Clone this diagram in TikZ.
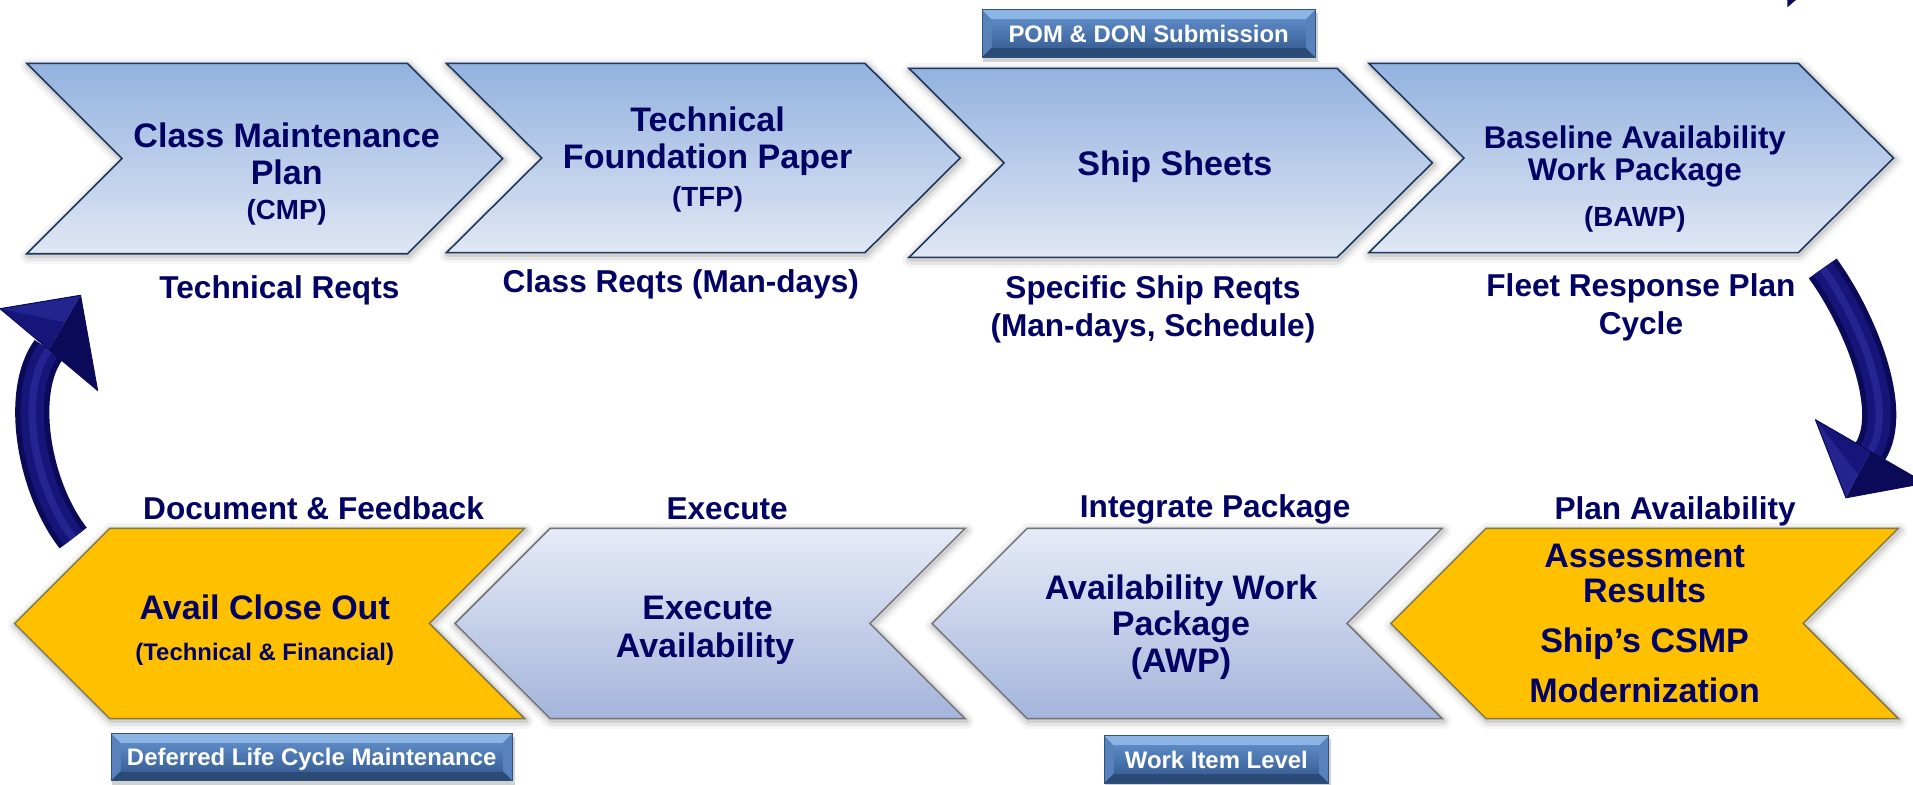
\documentclass[tikz,border=0pt]{standalone}
\usepackage{fontspec}
\setmainfont{Liberation Sans}
\usetikzlibrary{calc}
\definecolor{navy}{RGB}{2,2,100}
\definecolor{topA}{RGB}{147,178,223}
\definecolor{topB}{RGB}{224,231,244}
\definecolor{topline}{RGB}{30,55,95}
\definecolor{botA}{RGB}{230,235,247}
\definecolor{botB}{RGB}{164,181,219}
\definecolor{botline}{RGB}{115,115,120}
\definecolor{orangeF}{RGB}{255,192,0}
\definecolor{orline}{RGB}{135,120,70}
\definecolor{boxlight}{RGB}{140,180,228}
\definecolor{boxside}{RGB}{88,130,188}
\definecolor{boxdark}{RGB}{44,74,118}
\definecolor{boxinA}{RGB}{92,136,196}
\definecolor{boxinB}{RGB}{58,98,152}
\definecolor{boxline}{RGB}{50,80,125}
\definecolor{arrD}{RGB}{10,10,88}
\definecolor{arrM}{RGB}{22,22,122}
\definecolor{arrL}{RGB}{50,50,165}
\newcommand\myfs[1]{\fontsize{#1}{#1}\selectfont}
% right-pointing chevron: L T B R depth style
\newcommand\rchevp[6]{\path[#6] (#1,#2) -- (#4,#2) -- ({#4+#5},{(#2+#3)/2}) -- (#4,#3) -- (#1,#3) -- ({#1+#5},{(#2+#3)/2}) -- cycle;}
\newcommand\rchev[6]{\rchevp{#1}{#2}{#3}{#4}{#5}{halo1}\rchevp{#1}{#2}{#3}{#4}{#5}{halo2}\rchevp{#1}{#2}{#3}{#4}{#5}{halo3}\rchevp{#1}{#2}{#3}{#4}{#5}{#6}}
% left-pointing chevron: X T B Rt depth style
\newcommand\lchevp[6]{\path[#6] (#1,{(#2+#3)/2}) -- ({#1+#5},#2) -- (#4,#2) -- ({#4-#5},{(#2+#3)/2}) -- (#4,#3) -- ({#1+#5},#3) -- cycle;}
\newcommand\lchev[6]{\lchevp{#1}{#2}{#3}{#4}{#5}{halo1}\lchevp{#1}{#2}{#3}{#4}{#5}{halo2}\lchevp{#1}{#2}{#3}{#4}{#5}{halo3}\lchevp{#1}{#2}{#3}{#4}{#5}{#6}}
% bevelled box: x1 y1 x2 y2
\newcommand\bevbox[4]{%
  \fill[black,opacity=0.18] ({#1+1},{#2+3}) rectangle ({#3+2},{#4+4});
  \fill[boxside] (#1,#2) rectangle (#3,#4);
  \fill[boxlight] (#1,#2) -- (#3,#2) -- ({#3-8},{#2+8}) -- ({#1+8},{#2+8}) -- cycle;
  \fill[boxdark] (#1,#4) -- (#3,#4) -- ({#3-8},{#4-8}) -- ({#1+8},{#4-8}) -- cycle;
  \shade[top color=boxinA,bottom color=boxinB] ({#1+8},{#2+8}) rectangle ({#3-8},{#4-8});
  \draw[boxline,line width=0.8] (#1,#2) rectangle (#3,#4);}
\begin{document}
\begin{tikzpicture}[x=1pt,y=-1pt,
  halo1/.style={draw=black,opacity=0.04,line width=13,line join=round,shift={(1,2)}},
  halo2/.style={draw=black,opacity=0.06,line width=8,line join=round,shift={(1,2)}},
  halo3/.style={draw=black,opacity=0.09,line width=4,line join=round,shift={(1,1.5)}},
  topch/.style={top color=topA,bottom color=topB,draw=topline,line width=1.3},
  botch/.style={top color=botA,bottom color=botB,draw=botline,line width=1.2},
  orch/.style={fill=orangeF,draw=orline,line width=1.2},
  txt/.style={text=navy,inner sep=0pt,anchor=base},
  main/.style={txt,font=\bfseries\myfs{27.9}},
  bmain/.style={txt,font=\bfseries\myfs{25.7}},
  sub/.style={txt,font=\bfseries\myfs{22.7}},
  small/.style={txt,font=\bfseries\myfs{19.6}},
  lab/.style={txt,font=\bfseries\myfs{25.9}},
  boxt/.style={text=white,inner sep=0pt,anchor=base,font=\bfseries\myfs{19.6}},
  shaftD/.style={draw=arrD,line width=28},
  shaftM/.style={draw=arrM,line width=19},
  shaftL/.style={draw=arrL,line width=6,opacity=0.55}]
\useasboundingbox (0,0) rectangle (1568,643);
\fill[white] (0,0) rectangle (1568,643);

% ---------- top row ----------
\rchev{22}{52}{208}{334}{78}{topch}
\rchev{366}{52}{207}{709}{78}{topch}
\rchev{745}{56}{211}{1096}{78}{topch}
\rchev{1122}{52}{207}{1474}{78}{topch}

% ---------- bottom row ----------
\lchev{12}{433}{589}{430}{78}{orch}
\lchev{373}{433}{589}{791}{78}{botch}
\lchev{764}{433}{589}{1182}{78}{botch}
\lchev{1140}{433}{589}{1556}{78}{orch}

% ---------- bevelled boxes ----------
\bevbox{805}{8}{1078}{47}
\bevbox{91}{601}{420}{640}
\bevbox{905}{603}{1089}{642}
\node[boxt] (pom) at (941.5,34.5) {POM \& DON Submission};
\node[boxt] (dlc) at (255.5,627.5) {Deferred Life Cycle Maintenance};
\node[boxt] (wil) at (997,629.5) {Work Item Level};

% ---------- top texts ----------
\node[main] (cmp1) at (235,120.5) {Class Maintenance};
\node[main] (cmp2) at (235,151) {Plan};
\node[sub]  (cmp3) at (235,180) {(CMP)};
\node[lab]  (l1)   at (229,244.4) {Technical Reqts};

\node[main] (tfp1) at (580,107.4) {Technical};
\node[main] (tfp2) at (580,137.8) {Foundation Paper};
\node[sub]  (tfp3) at (580,169.5) {(TFP)};
\node[lab]  (l2)   at (558,239.5) {Class Reqts (Man-days)};

\node[main] (ss1)  at (963,144) {Ship Sheets};
\node[lab]  (l3a)  at (945,244.5) {Specific Ship Reqts};
\node[lab]  (l3b)  at (945,276) {(Man-days, Schedule)};

\node[bmain] (b1)  at (1340,122) {Baseline Availability};
\node[bmain] (b2)  at (1340,148) {Work Package};
\node[sub]   (b3)  at (1340,186) {(BAWP)};
\node[lab]   (l4a) at (1345,243) {Fleet Response Plan};
\node[lab]   (l4b) at (1345,274) {Cycle};

% ---------- bottom texts ----------
\node[lab] (l5) at (257,426) {Document \& Feedback};
\node[lab] (l6) at (596,426) {Execute};
\node[lab] (l7) at (996,424) {Integrate Package};
\node[lab] (l8) at (1373,426) {Plan Availability};

\node[main]  (a1) at (217,508) {Avail Close Out};
\node[small] (a2) at (217,541) {(Technical \& Financial)};
\node[main]  (e1) at (580,508) {Execute};
\node[main]  (e2) at (578,539) {Availability};
\node[main]  (w1) at (968,491) {Availability Work};
\node[main]  (w2) at (968,521) {Package};
\node[main]  (w3) at (968,551) {(AWP)};
\node[main]  (o1) at (1348,465) {Assessment};
\node[main]  (o2) at (1348,494) {Results};
\node[main]  (o3) at (1348,535) {Ship’s CSMP};
\node[main]  (o4) at (1348,576) {Modernization};

% ---------- left curved arrow ----------
\coordinate (la0) at (60,441);
\coordinate (la1) at (40,286.5);
\foreach \s in {shaftD,shaftM,shaftL}
  \path[\s] (la0) .. controls (28,400) and (14,322) .. (la1);
\coordinate (law1) at (80,320);
\coordinate (law2) at (0,253);
\coordinate (lat) at (66,242);
\fill[arrM] (law2) -- (lat) -- (la1) -- cycle;
\fill[arrD] (law1) -- (lat) -- (la1) -- cycle;
\fill[arrL,opacity=0.5] (law2) -- (lat) -- ($(la1)!0.5!(lat)$) -- cycle;
\draw[arrD,line width=0.8,line join=round] (law1) -- (lat) -- (law2) -- cycle;

% ---------- right curved arrow ----------
\coordinate (ra0) at (1494,220);
\coordinate (ra1) at (1533,370);
\foreach \s in {shaftD,shaftM,shaftL}
  \path[\s] (ra0) .. controls (1523,260) and (1555,335) .. (ra1);
\coordinate (raw1) at (1488,344);
\coordinate (raw2) at (1578,396);
\coordinate (rat) at (1513,408);
\fill[arrM] (raw1) -- (rat) -- (ra1) -- cycle;
\fill[arrD] (raw2) -- (rat) -- (ra1) -- cycle;
\fill[arrL,opacity=0.5] (raw1) -- (rat) -- ($(ra1)!0.5!(rat)$) -- cycle;
\draw[arrD,line width=0.8,line join=round] (raw1) -- (rat) -- (raw2) -- cycle;

% ---------- tip of an arrow cut by the top edge ----------
\fill[arrD] (1465,0) -- (1472,0) -- (1465,6) -- cycle;
\end{tikzpicture}
\end{document}
